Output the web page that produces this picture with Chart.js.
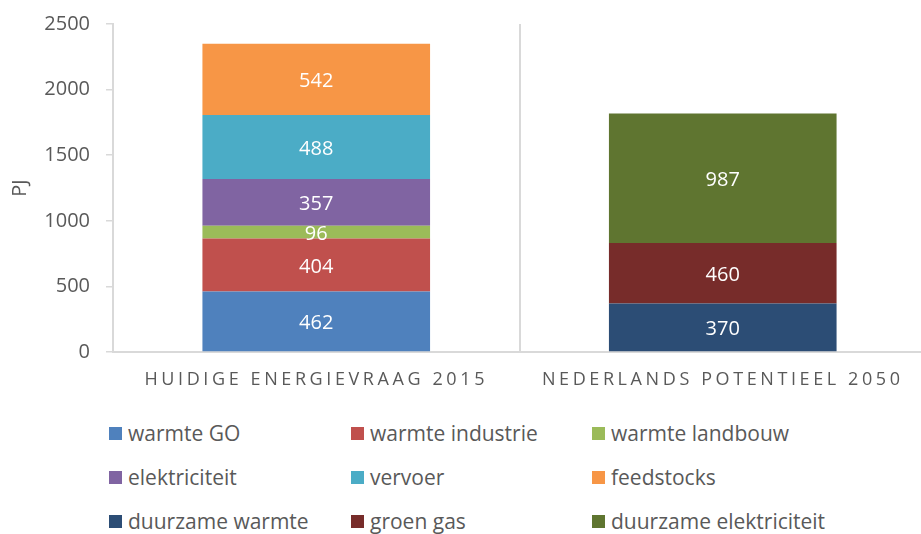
<!DOCTYPE html>
<html>
<head>
<meta charset="utf-8">
<script src="https://cdn.jsdelivr.net/npm/chart.js@4.4.1/dist/chart.umd.min.js"></script>
<style>
  html, body { margin: 0; padding: 0; background: #fff; overflow: hidden; }
  #wrap { position: relative; width: 921px; height: 534px; overflow: hidden; }
  #legend {
    position: absolute; left: 109px; top: 411px;
    display: grid; grid-template-columns: 242px 241px 260px; grid-auto-rows: 44px;
    font-family: 'Open Sans', sans-serif; font-size: 21px; color: #595959;
  }
  #legend .item { display: flex; align-items: center; white-space: nowrap; }
  #legend .box { width: 13px; height: 13px; margin-right: 6px; flex: none; }
</style>
</head>
<body>
<div id="wrap">
  <canvas id="energyChart" width="926" height="400"></canvas>
  <div id="legend"></div>
</div>
<script>
document.addEventListener('DOMContentLoaded', function () {

const categories = ['HUIDIGE ENERGIEVRAAG 2015', 'NEDERLANDS POTENTIEEL 2050'];

// one value per category, null where the series is absent
const warmteGO = [462, null];
const warmteIndustrie = [404, null];
const warmteLandbouw = [96, null];
const elektriciteit = [357, null];
const vervoer = [488, null];
const feedstocks = [542, null];
const duurzameWarmte = [null, 370];
const groenGas = [null, 460];
const duurzameElektriciteit = [null, 987];

const yTicks = [0, 500, 1000, 1500, 2000, 2500];

const textGrey = '#595959';
const lineGrey = '#d9d9d9';

const data = {
  labels: categories,
  datasets: [
    { label: 'warmte GO', data: warmteGO, backgroundColor: '#4f81bd' },
    { label: 'warmte industrie', data: warmteIndustrie, backgroundColor: '#c0504d' },
    { label: 'warmte landbouw', data: warmteLandbouw, backgroundColor: '#9bbb59' },
    { label: 'elektriciteit', data: elektriciteit, backgroundColor: '#8064a2' },
    { label: 'vervoer', data: vervoer, backgroundColor: '#4bacc6' },
    { label: 'feedstocks', data: feedstocks, backgroundColor: '#f79646' },
    { label: 'duurzame warmte', data: duurzameWarmte, backgroundColor: '#2c4d75' },
    { label: 'groen gas', data: groenGas, backgroundColor: '#772c2a' },
    { label: 'duurzame elektriciteit', data: duurzameElektriciteit, backgroundColor: '#5f7530' },
  ],
};

// white value in the middle of each segment
const segmentLabels = {
  id: 'segmentLabels',
  afterDatasetsDraw(chart) {
    const ctx = chart.ctx;
    ctx.save();
    ctx.font = "20px 'Open Sans'";
    ctx.fillStyle = '#ffffff';
    ctx.textAlign = 'center';
    ctx.textBaseline = 'middle';
    chart.data.datasets.forEach(function (ds, i) {
      chart.getDatasetMeta(i).data.forEach(function (bar, j) {
        const v = ds.data[j];
        if (v == null) return;
        ctx.fillText(String(v), bar.x, (bar.y + bar.base) / 2 + 2);
      });
    });
    ctx.restore();
  },
};

// spaced-out category labels
const spacedLabels = {
  id: 'spacedLabels',
  beforeDraw(chart) {
    const sc = chart.scales.x;
    if (sc._spaced) return;
    const orig = sc.drawLabels;
    sc.drawLabels = function (area) {
      this.ctx.save();
      this.ctx.letterSpacing = '3.6px';
      orig.call(this, area);
      this.ctx.restore();
    };
    sc._spaced = true;
  },
};

const options = {
  responsive: false,
  maintainAspectRatio: false,
  animation: false,
  layout: { padding: { top: 24, left: 0, right: 0, bottom: 0 } },
  plugins: {
    legend: { display: false },
    tooltip: { enabled: false },
  },
  datasets: {
    bar: { categoryPercentage: 1, barPercentage: 0.56, borderWidth: 0 },
  },
  scales: {
    x: {
      stacked: true,
      grid: { offset: true, drawTicks: false, color: lineGrey, lineWidth: 2 },
      border: { color: lineGrey, width: 2 },
      ticks: {
        color: textGrey,
        font: { family: 'Open Sans', size: 18 },
        padding: 17,
        maxRotation: 0,
      },
      afterFit: function (s) { s.height = 48; },
    },
    y: {
      stacked: true,
      min: 0,
      max: 2500,
      afterBuildTicks: function (s) { s.ticks = yTicks.map(function (v) { return { value: v }; }); },
      grid: { drawOnChartArea: false, drawTicks: true, tickLength: 7, color: lineGrey, lineWidth: 1.5 },
      border: { color: lineGrey, width: 2 },
      ticks: {
        color: textGrey,
        font: { family: 'Open Sans', size: 20 },
        padding: 16,
        callback: function (v) { return String(v); },
      },
      title: {
        display: true,
        text: 'PJ',
        color: textGrey,
        font: { family: 'Open Sans', size: 20 },
        padding: { top: 8, bottom: 0 },
      },
      afterFit: function (s) { s.width = 113; s.paddingTop = 0; s.paddingBottom = 0; },
    },
  },
};

const ctx = document.getElementById('energyChart').getContext('2d');
const chart = new Chart(ctx, {
  type: 'bar',
  data: data,
  options: options,
  plugins: [segmentLabels, spacedLabels],
});

// legend in three fixed columns
const legendEl = document.getElementById('legend');
chart.data.datasets.forEach(function (ds) {
  const item = document.createElement('div');
  item.className = 'item';
  const box = document.createElement('span');
  box.className = 'box';
  box.style.background = ds.backgroundColor;
  const txt = document.createElement('span');
  txt.textContent = ds.label;
  item.appendChild(box);
  item.appendChild(txt);
  legendEl.appendChild(item);
});

});
</script>
</body>
</html>
